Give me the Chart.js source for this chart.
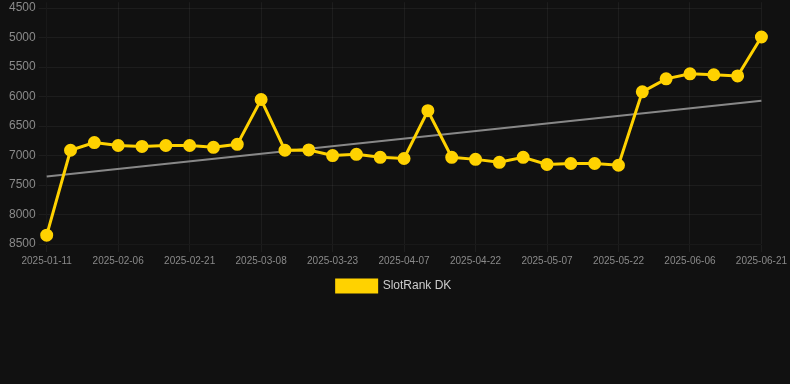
<!DOCTYPE html>
<html>
<head>
<meta charset="utf-8">
<script src="https://cdn.jsdelivr.net/npm/chart.js@4.4.1/dist/chart.umd.min.js"></script>
<style>
    html, body {
        margin: 0;
        padding: 0;
        background: #111111;
        overflow: hidden;
    }
    .chart-box {
        position: relative;
        width: 790px;
        height: 310px;
        margin-top: -8px;
    }
</style>
</head>
<body>
<div class="chart-box">
    <canvas id="rankChart"></canvas>
</div>
<script>
// Data
const dates = [
    '2025-01-11', '2025-01-27', '2025-02-01', '2025-02-06', '2025-02-11', '2025-02-16',
    '2025-02-21', '2025-02-26', '2025-03-03', '2025-03-08', '2025-03-13', '2025-03-18',
    '2025-03-23', '2025-03-28', '2025-04-02', '2025-04-07', '2025-04-12', '2025-04-17',
    '2025-04-22', '2025-04-27', '2025-05-02', '2025-05-07', '2025-05-12', '2025-05-17',
    '2025-05-22', '2025-05-27', '2025-06-01', '2025-06-06', '2025-06-11', '2025-06-16',
    '2025-06-21'
];
const rankValues = [
    8350, 6910, 6780, 6830, 6845, 6830,
    6830, 6860, 6810, 6050, 6910, 6905,
    7000, 6980, 7030, 7050, 6240, 7030,
    7065, 7115, 7030, 7150, 7135, 7135,
    7165, 5920, 5700, 5615, 5630, 5650,
    4990
];
// trend line end points (first and last date)
const trendEnds = [7355, 6070];
const yTicks = [4500, 5000, 5500, 6000, 6500, 7000, 7500, 8000, 8500];
const yTop = 4400;

const trendValues = dates.map((d, i) => {
    if (i === 0) return trendEnds[0];
    if (i === dates.length - 1) return trendEnds[1];
    return null;
});

Chart.defaults.font.family = "Arial, 'Liberation Sans', Helvetica, sans-serif";

const ctx = document.getElementById('rankChart').getContext('2d');
const rankChart = new Chart(ctx, {
    type: 'line',
    data: {
        labels: dates,
        datasets: [{
            label: 'SlotRank DK',
            data: rankValues,
            borderColor: '#ffd200',
            backgroundColor: '#ffd200',
            borderWidth: 3,
            pointRadius: 5,
            pointHoverRadius: 6,
            pointBackgroundColor: '#ffd200',
            pointBorderColor: '#ffd200',
            tension: 0
        }, {
            label: 'Trend',
            data: trendValues,
            borderColor: 'rgba(150, 150, 150, 0.9)',
            borderWidth: 2,
            pointRadius: 0,
            spanGaps: true,
            fill: false
        }]
    },
    options: {
        responsive: true,
        maintainAspectRatio: false,
        animation: false,
        layout: {
            padding: { left: 6, right: 8 }
        },
        scales: {
            y: {
                reverse: true,
                min: yTop,
                max: yTicks[yTicks.length - 1],
                afterBuildTicks: axis => {
                    axis.ticks = yTicks.map(v => ({ value: v }));
                },
                grid: {
                    color: 'rgba(255, 255, 255, 0.05)'
                },
                ticks: {
                    color: '#8a8a8a',
                    font: { size: 12 },
                    callback: value => String(value)
                }
            },
            x: {
                grid: {
                    color: 'rgba(255, 255, 255, 0.05)'
                },
                ticks: {
                    color: '#8a8a8a',
                    font: { size: 10 },
                    autoSkip: false,
                    maxRotation: 0,
                    callback: function(value, index) {
                        return index % 3 === 0 ? dates[index] : null;
                    }
                }
            }
        },
        plugins: {
            legend: {
                position: 'bottom',
                labels: {
                    color: '#cccccc',
                    font: { size: 12 },
                    filter: item => item.datasetIndex === 0
                }
            },
            tooltip: { enabled: false }
        }
    }
});
</script>
</body>
</html>
